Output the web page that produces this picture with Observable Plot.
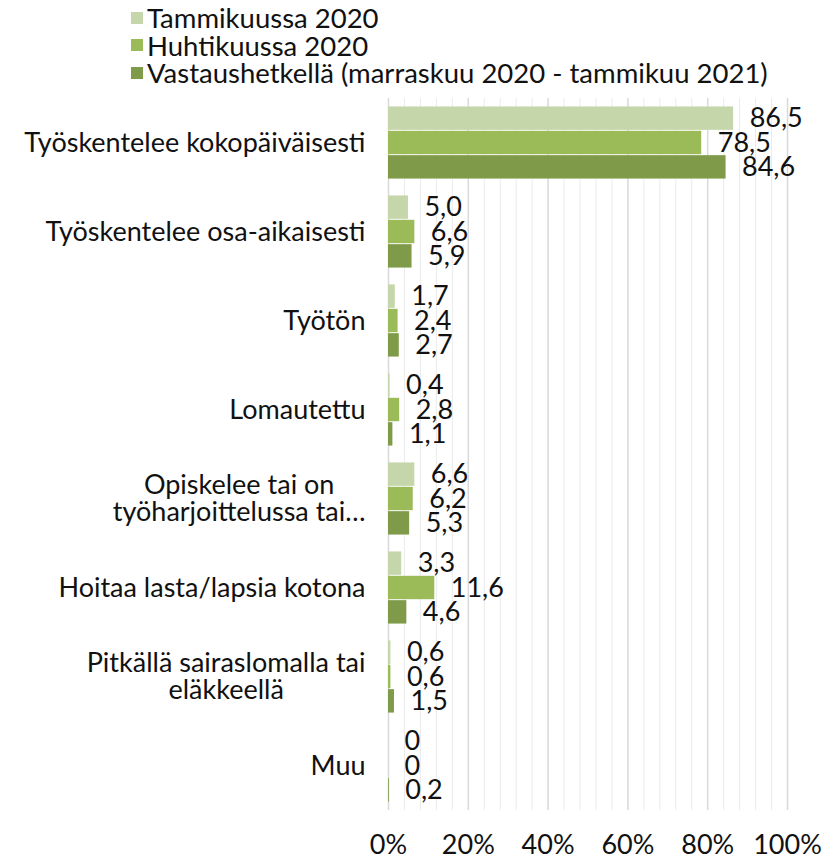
<!DOCTYPE html>
<html>
<head>
<meta charset="utf-8">
<script src="https://cdn.jsdelivr.net/npm/d3@7"></script>
<script src="https://cdn.jsdelivr.net/npm/@observablehq/plot@0.6"></script>
<style>
  body { margin: 0; background: #fff; font-family: Lato, "Noto Sans", sans-serif; color: #111; }
  #legend { height: 88px; box-sizing: border-box; padding-top: 4px; padding-left: 131px; }
  .li { display: flex; align-items: center; height: 27.5px; font-size: 27.5px; line-height: 27.5px; white-space: nowrap; }
  .sw { width: 12px; height: 12px; margin-right: 4px; flex: none; }
  svg { display: block; }
</style>
</head>
<body>
<div id="legend"></div>
<div id="chart"></div>
<script>
const categories = [
  "Työskentelee kokopäiväisesti",
  "Työskentelee osa-aikaisesti",
  "Työtön",
  "Lomautettu",
  "Opiskelee tai on\ntyöharjoittelussa tai…",
  "Hoitaa lasta/lapsia kotona",
  "Pitkällä sairaslomalla tai\neläkkeellä",
  "Muu"
];
const seriesNames = ["Tammikuussa 2020", "Huhtikuussa 2020", "Vastaushetkellä (marraskuu 2020 - tammikuu 2021)"];
const tammikuu = [86.5, 5.0, 1.7, 0.4, 6.6, 3.3, 0.6, 0];
const huhtikuu = [78.5, 6.6, 2.4, 2.8, 6.2, 11.6, 0.6, 0];
const vastaus  = [84.6, 5.9, 2.7, 1.1, 5.3, 4.6, 1.5, 0.2];
const colors = ["#c5d7aa", "#9bbb59", "#7f9b49"];
const xTicks = [0, 20, 40, 60, 80, 100];
const minorTicks = d3.range(4, 100, 4).filter(v => v % 20 !== 0);

const seriesValues = [tammikuu, huhtikuu, vastaus];
const rows = [];
categories.forEach((c, i) => {
  seriesNames.forEach((s, j) => rows.push({category: c, series: s, value: seriesValues[j][i]}));
});
const fmt = v => v === 0 ? "0" : v.toFixed(1).replace(".", ",");

// legend
const legend = document.getElementById("legend");
seriesNames.forEach((s, j) => {
  const d = document.createElement("div");
  d.className = "li";
  d.innerHTML = `<span class="sw" style="background:${colors[j]}"></span><span>${s}</span>`;
  legend.appendChild(d);
});

const chart = Plot.plot({
  width: 832,
  height: 773,
  marginLeft: 388,
  marginRight: 45,
  marginTop: 8,
  marginBottom: 49,
  style: {fontFamily: "Lato, 'Noto Sans', sans-serif", fontSize: "27px", color: "#111", background: "#fff"},
  x: {domain: [0, 100], ticks: xTicks, tickFormat: d => d + "%", label: null},
  fy: {domain: categories, padding: 0, label: null},
  y: {domain: seriesNames, axis: null, paddingInner: 0.04, paddingOuter: 0.346, round: false},
  color: {domain: seriesNames, range: colors},
  marks: [
    Plot.ruleX(minorTicks, {stroke: "#ebebeb", strokeWidth: 1}),
    Plot.ruleX(xTicks, {stroke: "#d9d9d9", strokeWidth: 1.5}),
    Plot.barX(rows, {x: "value", y: "series", fy: "category", fill: "series"}),
    Plot.text(rows, {x: "value", y: "series", fy: "category", text: d => fmt(d.value), textAnchor: "start", dx: 16, fill: "#111", fontSize: 27}),
    Plot.axisX({ticks: xTicks, tickFormat: d => d + "%", tickSize: 0, tickPadding: 24, fontSize: 27, label: null}),
    Plot.axisFy({anchor: "left", tickSize: 0, tickPadding: 23, fontSize: 27, lineHeight: 1, label: null})
  ]
});
document.getElementById("chart").appendChild(chart);

// center multi-line category labels like the original
chart.querySelectorAll("text").forEach(t => {
  const spans = t.querySelectorAll("tspan");
  if (spans.length > 1) {
    let W = 0;
    spans.forEach(s => { W = Math.max(W, s.getComputedTextLength()); });
    t.setAttribute("text-anchor", "middle");
    spans.forEach(s => s.setAttribute("x", -W / 2));
  }
});
</script>
</body>
</html>
